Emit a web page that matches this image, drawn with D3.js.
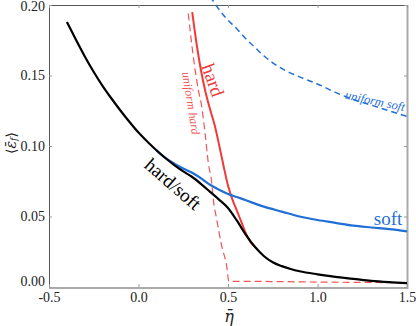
<!DOCTYPE html>
<html>
<head>
<meta charset="utf-8">
<script src="https://cdn.jsdelivr.net/npm/d3@7"></script>
<style>
  body { margin: 0; background: #fff; }
  svg text { font-family: "Liberation Serif", "DejaVu Serif", serif; }
</style>
</head>
<body>
<svg id="chart" width="416" height="326"></svg>
<script>
// values
var xTicks = [-0.5, 0.0, 0.5, 1.0, 1.5];
var yTicks = [0.00, 0.05, 0.10, 0.15, 0.20];

var hardSoftX = [-0.40, -0.35, -0.30, -0.25, -0.20, -0.15, -0.10, -0.05, 0.00, 0.05, 0.10, 0.15, 0.20, 0.25, 0.30, 0.35, 0.40, 0.45, 0.50, 0.55, 0.60, 0.65, 0.70, 0.75, 0.80, 0.85, 0.90, 1.00, 1.10, 1.20, 1.30, 1.40, 1.50];
var hardSoftY = [0.188, 0.1755, 0.1635, 0.1525, 0.1425, 0.1335, 0.125, 0.117, 0.1095, 0.103, 0.097, 0.0915, 0.0865, 0.082, 0.078, 0.073, 0.0675, 0.062, 0.056, 0.047, 0.037, 0.0285, 0.022, 0.0175, 0.0148, 0.0128, 0.0112, 0.009, 0.0072, 0.0058, 0.0043, 0.0034, 0.0028];

var softX = [0.10, 0.15, 0.20, 0.25, 0.30, 0.35, 0.40, 0.45, 0.50, 0.55, 0.60, 0.70, 0.80, 0.90, 1.00, 1.10, 1.20, 1.30, 1.40, 1.50];
var softY = [0.097, 0.0915, 0.0875, 0.084, 0.081, 0.077, 0.0725, 0.069, 0.066, 0.0638, 0.0615, 0.057, 0.0535, 0.050, 0.0475, 0.0455, 0.0435, 0.0422, 0.041, 0.0395];

var hardX = [0.300, 0.325, 0.350, 0.375, 0.400, 0.425, 0.450, 0.475, 0.500, 0.525, 0.550, 0.575, 0.600, 0.625, 0.650];
var hardY = [0.195, 0.172, 0.153, 0.138, 0.126, 0.115, 0.101, 0.086, 0.072, 0.062, 0.054, 0.046, 0.038, 0.032, 0.0285];

var uniHardX = [0.278, 0.306, 0.334, 0.353, 0.372, 0.390, 0.409, 0.418, 0.437, 0.465, 0.493, 0.505, 0.60, 0.80, 1.00, 1.20, 1.50];
var uniHardY = [0.194, 0.1635, 0.140, 0.128, 0.109, 0.088, 0.074, 0.062, 0.048, 0.029, 0.0146, 0.004, 0.004, 0.0038, 0.0035, 0.0033, 0.003];

var uniSoftX = [0.40, 0.48, 0.55, 0.60, 0.65, 0.70, 0.75, 0.80, 0.90, 1.00, 1.10, 1.20, 1.30, 1.40, 1.50];
var uniSoftY = [0.206, 0.192, 0.183, 0.176, 0.170, 0.164, 0.159, 0.155, 0.149, 0.144, 0.138, 0.133, 0.129, 0.125, 0.121];

var svg = d3.select("#chart");
var mLeft = 49, mRight = 407, mTop = 5, mBottom = 287;

var x = d3.scaleLinear().domain([-0.5, 1.5]).range([mLeft, mRight]);
var y = d3.scaleLinear().domain([0, 0.2]).range([mBottom, mTop]);

function pts(xs, ys) { return xs.map(function (v, i) { return [v, ys[i]]; }); }

var line = d3.line()
  .x(function (d) { return x(d[0]); })
  .y(function (d) { return y(d[1]); })
  .curve(d3.curveMonotoneX);

// spines
svg.append("line").attr("x1", mLeft).attr("x2", mRight).attr("y1", mTop + 0.5).attr("y2", mTop + 0.5)
  .attr("stroke", "#555").attr("stroke-width", 1);
svg.append("line").attr("x1", mLeft + 0.5).attr("x2", mLeft + 0.5).attr("y1", mTop).attr("y2", mBottom)
  .attr("stroke", "#555").attr("stroke-width", 1);
svg.append("line").attr("x1", mLeft).attr("x2", mRight + 1.5).attr("y1", mBottom + 1).attr("y2", mBottom + 1)
  .attr("stroke", "#aaa").attr("stroke-width", 2);
svg.append("line").attr("x1", mRight + 0.5).attr("x2", mRight + 0.5).attr("y1", mTop).attr("y2", mBottom)
  .attr("stroke", "#aaa").attr("stroke-width", 2);

// inward ticks via axes
var fmt = d3.format(".1f");
var xAxis = svg.append("g").attr("transform", "translate(0," + mBottom + ")")
  .call(d3.axisBottom(x).tickValues(xTicks).tickSize(-3).tickPadding(5)
    .tickFormat(function (d) { return d < 0 ? "-0.5" : fmt(d); }));
var xAxisTop = svg.append("g").attr("transform", "translate(0," + mTop + ")")
  .call(d3.axisTop(x).tickValues(xTicks).tickSize(-3).tickFormat(""));
var yAxis = svg.append("g").attr("transform", "translate(" + mLeft + ",0)")
  .call(d3.axisLeft(y).tickValues(yTicks).tickSize(-3).tickPadding(4).tickFormat(d3.format(".2f")));
var yAxisRight = svg.append("g").attr("transform", "translate(" + mRight + ",0)")
  .call(d3.axisRight(y).tickValues(yTicks).tickSize(-3).tickFormat(""));

[xAxis, xAxisTop, yAxis, yAxisRight].forEach(function (g) {
  g.attr("font-family", null).attr("font-size", null);
  g.select(".domain").remove();
  g.selectAll(".tick line").attr("stroke", "#999");
  g.selectAll("text").attr("font-size", 14).attr("fill", "#222");
});
// the 0.00 label sits a little above its tick in the reference, 0.20 a little below
yAxis.selectAll(".tick text").attr("dy", function (d) {
  return d === 0 ? "-0.1em" : (d === 0.2 ? "0.4em" : "0.32em");
});

// curves
svg.append("path").datum(pts(uniSoftX, uniSoftY)).attr("d", line)
  .attr("fill", "none").attr("stroke", "#1f6fd6").attr("stroke-width", 1.5)
  .attr("stroke-dasharray", "6,4");
svg.append("path").datum(pts(uniHardX, uniHardY)).attr("d", line)
  .attr("fill", "none").attr("stroke", "#f25555").attr("stroke-width", 1.2)
  .attr("stroke-dasharray", "7,4");
svg.append("path").datum(pts(hardX, hardY)).attr("d", line)
  .attr("fill", "none").attr("stroke", "#f03a3a").attr("stroke-width", 2);
svg.append("path").datum(pts(softX, softY)).attr("d", line)
  .attr("fill", "none").attr("stroke", "#1f6fd6").attr("stroke-width", 2.2);
svg.append("path").datum(pts(hardSoftX, hardSoftY)).attr("d", line)
  .attr("fill", "none").attr("stroke", "#000").attr("stroke-width", 2.2);

// curve labels
function label(txt, cx, cy, angle, size, color, italic) {
  svg.append("text")
    .attr("transform", "translate(" + cx + "," + cy + ") rotate(" + angle + ")")
    .attr("text-anchor", "middle").attr("dominant-baseline", "central")
    .attr("font-size", size).attr("fill", color)
    .attr("font-style", italic ? "italic" : "normal")
    .text(txt);
}
label("hard", 213, 80, 71, 19, "#f03a3a", false);
label("uniform hard", 191, 103, 81, 12, "#f25555", true);
label("hard/soft", 173, 184, 41, 19, "#000", false);
label("soft", 388, 218, 0, 19, "#1f6fd6", false);
label("uniform soft", 375, 101, 12, 12.5, "#1f6fd6", true);

// axis titles
svg.append("text").attr("x", 229).attr("y", 316)
  .attr("text-anchor", "middle").attr("dominant-baseline", "central")
  .attr("font-size", 16).attr("font-style", "italic").attr("fill", "#222")
  .style("font-family", "'DejaVu Serif', serif")
  .text("\u03B7\u0304");

var yl = svg.append("text")
  .attr("transform", "translate(11,143) rotate(-90)")
  .attr("text-anchor", "middle").attr("dominant-baseline", "central")
  .attr("font-size", 14).attr("fill", "#222")
  .style("font-family", "'DejaVu Serif', serif");
yl.append("tspan").text("\u27E8");
yl.append("tspan").attr("font-style", "italic").text("\u03B5\u0304");
yl.append("tspan").attr("font-style", "italic").attr("font-size", 9).attr("dy", 3).text("f");
yl.append("tspan").attr("dy", -3).text("\u27E9");
</script>
</body>
</html>
